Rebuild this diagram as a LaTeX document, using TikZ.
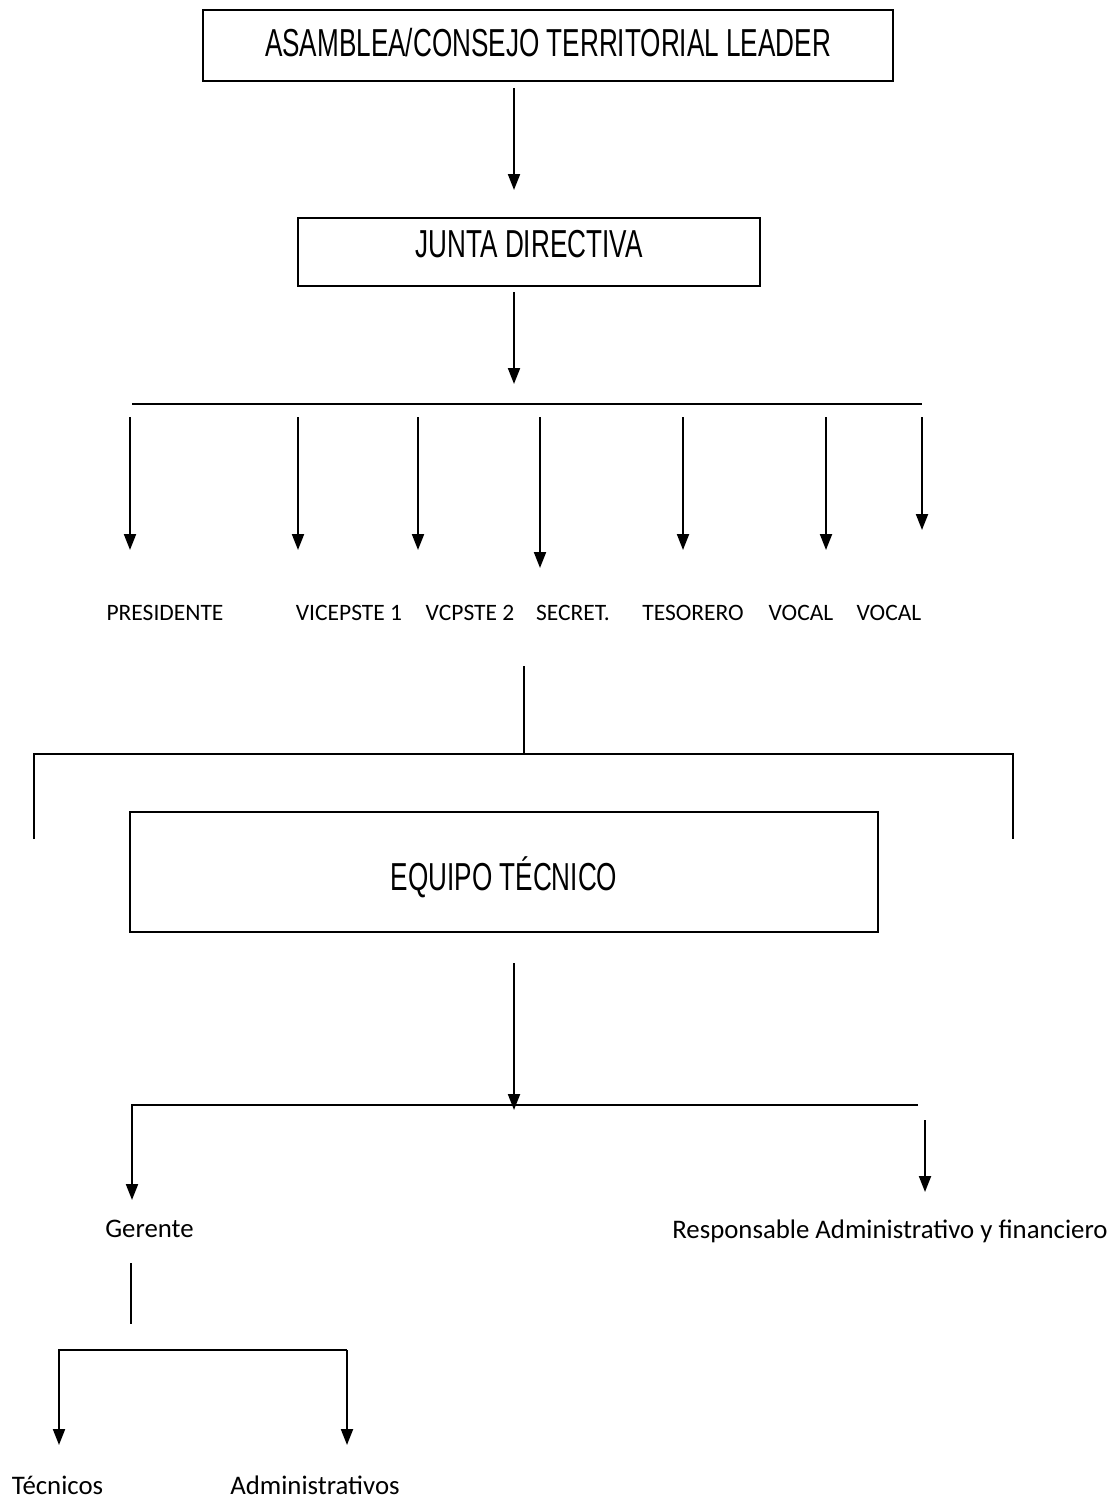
\documentclass[tikz,border=0pt]{standalone}
\usepackage{fontspec}
\setmainfont{Carlito}
\newfontfamily\narrowsans[FakeStretch=0.67]{Liberation Sans}
\usetikzlibrary{arrows.meta}

\tikzstyle{caja} = [draw, line width=1pt, rectangle, inner sep=0pt, text height=14pt, text depth=0pt, font=\narrowsans\fontsize{19.5}{22}\selectfont]

\begin{document}
\begin{tikzpicture}[x=0.5pt,y=-0.5pt,
		linea/.style={line width=1pt},
		flecha/.style={line width=1pt,-{Triangle[width=6pt,length=8pt]}},
		cargo/.style={font=\fontsize{11.75}{14}\selectfont, inner sep=0pt, anchor=base},
		puesto/.style={font=\fontsize{13.4}{16}\selectfont, inner sep=0pt, anchor=base}]
		\useasboundingbox (0,0) rectangle (1115,1504);
		% boxes
		\node (asamblea) [caja, minimum width=345pt, minimum height=35.5pt, text depth=2.5pt] at (548,45.5) {ASAMBLEA/CONSEJO TERRITORIAL LEADER};
		\node (junta) [caja, minimum width=231pt, minimum height=34pt, text depth=9pt] at (529,252) {JUNTA DIRECTIVA};
		\node (equipo) [caja, minimum width=374pt, minimum height=60pt, text height=18.5pt] at (504,872) {EQUIPO TÉCNICO};
		% junta members
		\node (presidente) [cargo] at (165,620) {PRESIDENTE};
		\node (vice1) [cargo] at (349,620) {VICEPSTE 1};
		\node (vice2) [cargo] at (470,620) {VCPSTE 2};
		\node (secret) [cargo] at (573,620) {SECRET.};
		\node (tesorero) [cargo] at (693,620) {TESORERO};
		\node (vocal1) [cargo] at (801,620) {VOCAL};
		\node (vocal2) [cargo] at (889,620) {VOCAL};
		% equipo
		\node (gerente) [puesto] at (149.5,1237) {Gerente};
		\node (responsable) [puesto] at (890,1238) {Responsable Administrativo y financiero};
		\node (tecnicos) [puesto] at (57.5,1494) {Técnicos};
		\node (admin) [puesto] at (315,1494) {Administrativos};
		% connector points
		\coordinate (a1) at (514,88);
		\coordinate (a2) at (514,190);
		\coordinate (j1) at (514,292);
		\coordinate (j2) at (514,384);
		\coordinate (b1) at (132,404);
		\coordinate (b2) at (922,404);
		\coordinate (m1) at (524,666);
		\coordinate (m2) at (524,754);
		\coordinate (l1) at (34,839);
		\coordinate (l2) at (34,754);
		\coordinate (l3) at (1013,754);
		\coordinate (l4) at (1013,839);
		\coordinate (e1) at (514,963);
		\coordinate (e2) at (514,1110);
		\coordinate (h1) at (132,1105);
		\coordinate (h2) at (918,1105);
		\coordinate (g1) at (132,1200);
		\coordinate (r1) at (925,1120);
		\coordinate (r2) at (925,1192);
		\coordinate (k0) at (131,1263);
		\coordinate (k1) at (131,1324);
		\coordinate (k2) at (59,1350);
		\coordinate (k3) at (347,1350);
		\coordinate (k4) at (59,1445);
		\coordinate (k5) at (347,1445);
		% connectors
		\draw [flecha] (a1) -- (a2);
		\draw [flecha] (j1) -- (j2);
		\draw [linea] (b1) -- (b2);
		\foreach \x/\y [count=\i] in {130/550,298/550,418/550,540/568,683/550,826/550,922/530}{
			\coordinate (s\i) at (\x,417);
			\coordinate (t\i) at (\x,\y);
			\draw [flecha] (s\i) -- (t\i);
		}
		\draw [linea] (m1) -- (m2);
		\draw [linea] (l1) -- (l2) -- (l3) -- (l4);
		\draw [flecha] (e1) -- (e2);
		\draw [flecha] (h2) -- (h1) -- (g1);
		\draw [flecha] (r1) -- (r2);
		\draw [linea] (k0) -- (k1);
		\draw [flecha] (k3) -- (k2) -- (k4);
		\draw [flecha] (k3) -- (k5);
	\end{tikzpicture}
\end{document}
